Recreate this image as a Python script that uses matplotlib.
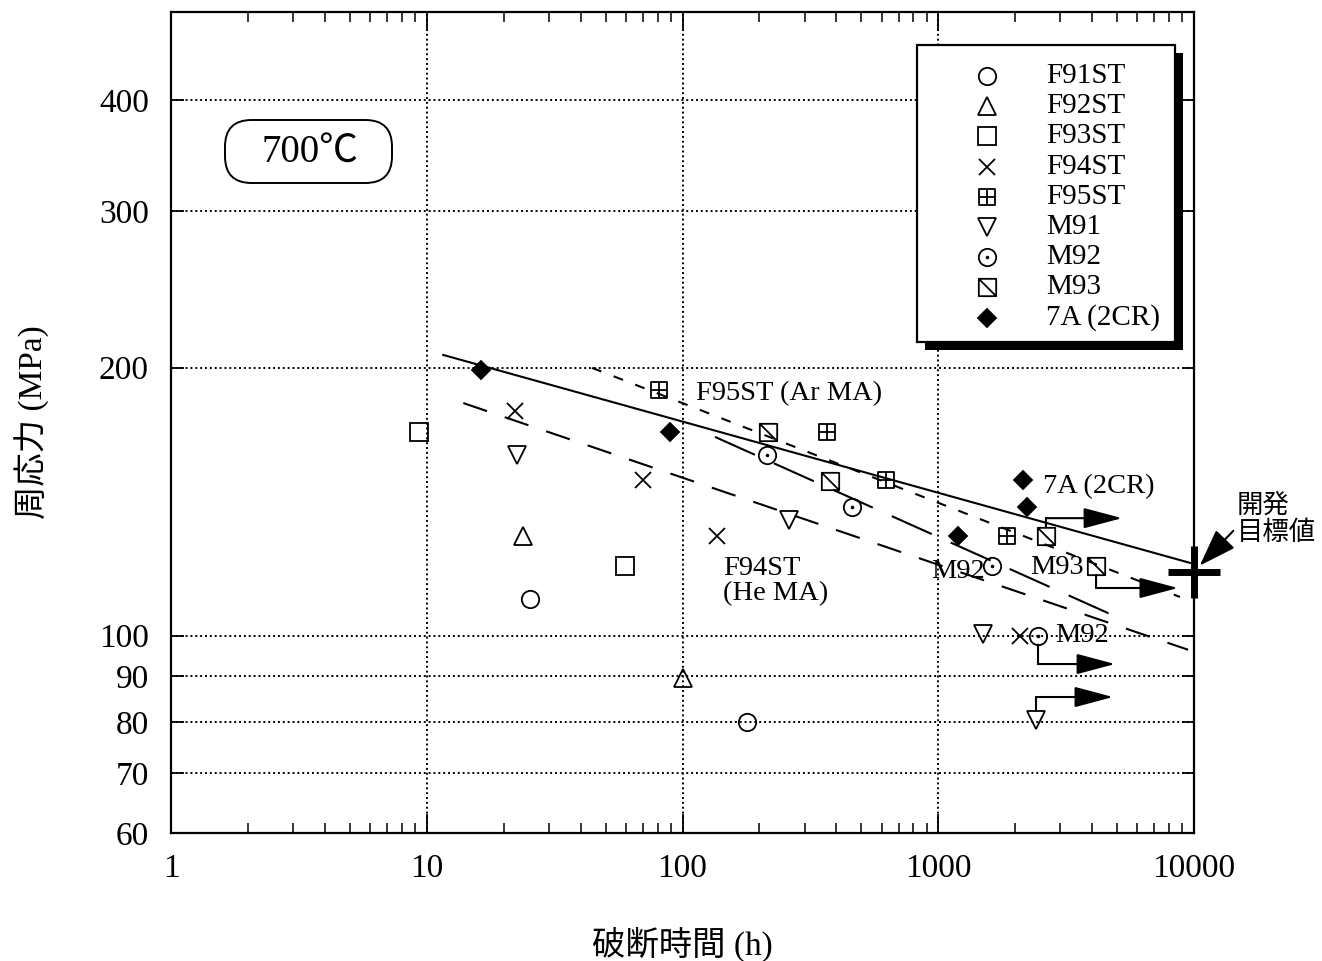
import matplotlib
matplotlib.use('Agg')
import matplotlib.pyplot as plt
from matplotlib.path import Path
from matplotlib.patches import Rectangle, FancyBboxPatch
from matplotlib.ticker import FixedLocator, NullLocator, LogLocator, NullFormatter

plt.rcParams['font.family'] = ['Liberation Serif', 'Noto Sans CJK JP']

# ---- data (rupture time h, stress MPa) ----
f91_x = [25.3, 179];  f91_y = [110, 80]
f92_x = [23.8, 100];  f92_y = [129.4, 89.6]
f93_x = [9.3, 59.6];  f93_y = [169.3, 119.7]
f94_x = [22.1, 70.1, 136, 2090];  f94_y = [179, 149.5, 129.4, 100]
f95_x = [81, 367, 625, 1858];     f95_y = [188.7, 169.3, 149.5, 129.4]
m91_x = [22.6, 261, 1496, 2411];  m91_y = [159.6, 134.8, 100.3, 80.4]
m92_x = [214, 460, 1623, 2455];   m92_y = [159.6, 139.4, 119.7, 100]
m93_x = [216, 377, 2637, 4140];   m93_y = [169.3, 149.2, 129.4, 119.7]
a7_x = [16.3, 89.4, 1195, 2145, 2220];  a7_y = [199, 169.3, 129.4, 149.5, 139.4]

series_names = ['F91ST', 'F92ST', 'F93ST', 'F94ST', 'F95ST', 'M91', 'M92', 'M93', '7A (2CR)']
series_x = [f91_x, f92_x, f93_x, f94_x, f95_x, m91_x, m92_x, m93_x, a7_x]
series_y = [f91_y, f92_y, f93_y, f94_y, f95_y, m91_y, m92_y, m93_y, a7_y]

# fitted lines (end points)
line_7a_x = [11.6, 9640];   line_7a_y = [206.7, 120.7]
line_f95_x = [44.3, 8815];  line_f95_y = [199.9, 110.5]
line_m92_x = [134, 5000];   line_m92_y = [167.2, 104.9]
line_f94_x = [13.9, 9480];  line_f94_y = [182.5, 96.4]

# unbroken (runout) specimens
runout_x = [2637, 4140, 2455, 2411]
runout_y = [129.4, 119.7, 100, 80.4]
runout_level = [135.5, 113.1, 92.9, 85.3]
runout_end = [5230, 8650, 4910, 4820]

target_x = 10000
target_y = 118

xticks = [1, 10, 100, 1000, 10000]
yticks = [60, 70, 80, 90, 100, 200, 300, 400]

# ---- marker shapes ----
box_plus = Path([(-1, -1), (1, -1), (1, 1), (-1, 1), (-1, -1), (0, -1), (0, 1), (-1, 0), (1, 0)],
                [Path.MOVETO, Path.LINETO, Path.LINETO, Path.LINETO, Path.CLOSEPOLY,
                 Path.MOVETO, Path.LINETO, Path.MOVETO, Path.LINETO])
box_diag = Path([(-1, -1), (1, -1), (1, 1), (-1, 1), (-1, -1), (-1, 1), (1, -1)],
                [Path.MOVETO, Path.LINETO, Path.LINETO, Path.LINETO, Path.CLOSEPOLY,
                 Path.MOVETO, Path.LINETO])

marker_layers = [
    [('o', 12.5, False)],
    [('^', 12.5, False)],
    [('s', 12.5, False)],
    [('x', 12, False)],
    [(box_plus, 12, False)],
    [('v', 12.5, False)],
    [('o', 12.5, False), ('.', 2.5, True)],
    [(box_diag, 12.5, False)],
    [('D', 9, True)],
]


def draw_marker(ax, x, y, layers, **kw):
    for m, ms, filled in layers:
        ax.plot(x, y, ls='none', marker=m, ms=ms, mec='k', mew=1.3,
                mfc='k' if filled else 'none', zorder=4, **kw)


W, H = 1322, 961
L, R, T, B = 171, 1194, 12, 833
fig = plt.figure(figsize=(W / 100, H / 100), dpi=100)
ax = fig.add_axes([L / W, 1 - B / H, (R - L) / W, (B - T) / H])


def axfrac(px, py):
    return (px - L) / (R - L), (B - py) / (B - T)


ax.set_xscale('log')
ax.set_yscale('log')
ax.set_xlim(1, 10000)
ax.set_ylim(60, 502)

ax.xaxis.set_major_locator(FixedLocator(xticks))
ax.set_xticklabels([str(v) for v in xticks])
ax.xaxis.set_minor_locator(LogLocator(base=10, subs=range(2, 10)))
ax.xaxis.set_minor_formatter(NullFormatter())
ax.yaxis.set_major_locator(FixedLocator(yticks))
ax.set_yticklabels([str(v) for v in yticks])
ax.yaxis.set_minor_locator(NullLocator())

ax.tick_params(which='both', direction='in', top=True, right=True, labelsize=24)
ax.tick_params(axis='x', which='major', length=14, width=1.3, pad=15)
ax.tick_params(axis='x', which='minor', length=7, width=1.1)
ax.tick_params(axis='y', which='major', length=9, width=1.3, pad=16)
for s in ax.spines.values():
    s.set_linewidth(1.6)

for v in xticks[1:-1]:
    ax.axvline(v, color='k', lw=1.4, ls=(0, (1, 1.5)), zorder=1)
for v in yticks[1:]:
    ax.axhline(v, color='k', lw=1.4, ls=(0, (1, 1.5)), zorder=1)

# fitted lines
ax.plot(line_7a_x, line_7a_y, color='k', lw=1.5, zorder=2)
ax.plot(line_f95_x, line_f95_y, color='k', lw=1.5, dashes=(4.8, 6.3), zorder=2)
ax.plot(line_m92_x, line_m92_y, color='k', lw=1.5, dashes=(21, 10), zorder=2)
ax.plot(line_f94_x, line_f94_y, color='k', lw=1.5, dashes=(12, 9), zorder=2)

# data points
for xs, ys, layers in zip(series_x, series_y, marker_layers):
    draw_marker(ax, xs, ys, layers)

# runout arrows
for x0, y0, lev, xe in zip(runout_x, runout_y, runout_level, runout_end):
    ax.annotate('', xy=(x0, lev), xytext=(x0, y0),
                arrowprops=dict(arrowstyle='-', lw=1.5, color='k', shrinkA=6.5, shrinkB=0))
    ax.annotate('', xy=(xe, lev), xytext=(x0, lev),
                arrowprops=dict(arrowstyle='-|>,head_length=1.2,head_width=0.32',
                                mutation_scale=20, lw=1.5, color='k', shrinkA=0, shrinkB=0))

# development target
ax.plot([target_x], [target_y], marker='+', ms=38, mew=5, color='k', clip_on=False, zorder=5)
ax.annotate('開発\n目標値', xy=(target_x, target_y), xytext=(31, 38), textcoords='offset points',
            ha='left', va='center', fontsize=19, family='Noto Sans CJK JP', linespacing=1.0,
            annotation_clip=False,
            arrowprops=dict(arrowstyle='-|>,head_length=1.3,head_width=0.45', mutation_scale=18,
                            lw=1.5, color='k', shrinkA=1, shrinkB=6, relpos=(0, 0.35)))

# line labels
ax.text(113, 186.8, 'F95ST (Ar MA)', fontsize=20.5, ha='left', va='center')
ax.text(144, 115.2, 'F94ST\n(He MA)', fontsize=20.5, ha='left', va='center', linespacing=1.0)
ax.text(2570, 146.9, '7A (2CR)', fontsize=20.5, ha='left', va='center')
ax.text(1524, 117.9, 'M92', fontsize=20.5, ha='right', va='center')
ax.text(2285, 119.4, 'M93', fontsize=20.5, ha='left', va='center')
ax.text(2863, 100, 'M92', fontsize=20.5, ha='left', va='center')

# temperature box
bx0, by0 = axfrac(225, 183)
bx1, by1 = axfrac(392, 120)
ax.add_patch(FancyBboxPatch((bx0, by0), bx1 - bx0, by1 - by0, transform=ax.transAxes,
                            boxstyle='round,pad=0,rounding_size=0.026',
                            mutation_aspect=(R - L) / (B - T),
                            fc='white', ec='k', lw=1.4, zorder=5))
tx, ty = axfrac(310, 152)
ax.text(tx, ty, '700℃', transform=ax.transAxes, fontsize=28, ha='center', va='center', zorder=6)

# legend box with shadow
lx0, ly0 = axfrac(917, 342)
lx1, ly1 = axfrac(1175, 45)
sx, sy = 8 / (R - L), 8 / (B - T)
ax.add_patch(Rectangle((lx0 + sx, ly0 - sy), lx1 - lx0, ly1 - ly0, transform=ax.transAxes,
                       fc='k', ec='k', lw=0, zorder=6, clip_on=False))
ax.add_patch(Rectangle((lx0, ly0), lx1 - lx0, ly1 - ly0, transform=ax.transAxes,
                       fc='white', ec='k', lw=1.6, zorder=7, clip_on=False))
for i, (name, layers) in enumerate(zip(series_names, marker_layers)):
    mx, my = axfrac(987, 76 + 30.2 * i)
    for m, ms, filled in layers:
        ax.plot([mx], [my], ls='none', marker=m, ms=ms, mec='k', mew=1.3,
                mfc='k' if filled else 'none', transform=ax.transAxes, clip_on=False, zorder=8)
    tx, ty = axfrac(1046, 76 + 30.2 * i)
    ax.text(tx, ty, name, transform=ax.transAxes, fontsize=21, ha='left', va='center', zorder=8)

ax.set_xlabel('破断時間 (h)', fontsize=24)
ax.set_ylabel('周応力 (MPa)', fontsize=24)
ax.xaxis.set_label_coords(0.5, -0.114)
ax.yaxis.set_label_coords(-0.118, 0.5)

fig.savefig('out.png', dpi=100)
